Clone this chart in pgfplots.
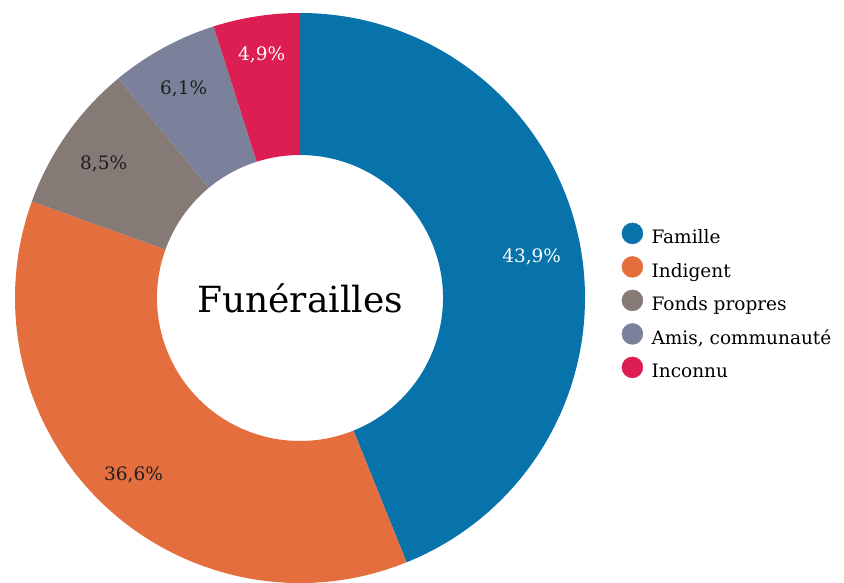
\documentclass[border=0pt]{standalone}
\usepackage{pgfplots}
\pgfplotsset{compat=1.18}
\usepackage{fontspec}
\setmainfont{DejaVu Serif}

\definecolor{famille}{RGB}{8,114,170}
\definecolor{indigent}{RGB}{228,110,62}
\definecolor{fonds}{RGB}{133,122,118}
\definecolor{amis}{RGB}{124,129,155}
\definecolor{inconnu}{RGB}{221,30,82}
\definecolor{labeldark}{RGB}{30,30,30}

% outer and inner radius of the ring (1 axis unit = 1pt)
\newcommand\Ro{285}
\newcommand\Ri{143}
% slice from cumulative percent #1 to #2, clockwise from the top
\newcommand{\slice}[3]{%
  \fill[#3] (axis cs:{\Ro*cos(90-3.6*#1)},{\Ro*sin(90-3.6*#1)})
    arc[start angle={90-3.6*#1}, end angle={90-3.6*#2}, radius=\Ro pt]
    -- (axis cs:{\Ri*cos(90-3.6*#2)},{\Ri*sin(90-3.6*#2)})
    arc[start angle={90-3.6*#2}, end angle={90-3.6*#1}, radius=\Ri pt] -- cycle;}
% label at the middle angle of the slice, at distance #5 from the centre
\newcommand{\slicelabel}[5]{%
  \node[text=#4, font=\fontsize{18.5}{20}\selectfont, yshift=-4pt]
    at (axis cs:{#5*cos(90-1.8*(#1+#2))},{#5*sin(90-1.8*(#1+#2))}) {#3};}

\begin{document}
\begin{tikzpicture}
\begin{axis}[
  hide axis,
  scale only axis,
  width=844pt, height=583pt,
  xmin=-300, xmax=544,
  ymin=-285, ymax=298,
  clip=false,
  legend image code/.code={\fill[#1] (10.5pt,6pt) circle (10.5pt);},
  legend style={
    at={(axis cs:321.5,75.5)}, anchor=north west,
    draw=none, fill=none, inner sep=0pt,
    font=\fontsize{18.5}{20}\selectfont,
    row sep=7.3pt,
    nodes={inner sep=0pt, text height=14pt, text depth=5pt},
    /tikz/every even column/.append style={column sep=0pt},
  },
  legend cell align=left,
]
  \coordinate (bl) at (axis cs:-300,-285);
  \coordinate (tr) at (axis cs:544,298);

  % cumulative shares: 43,9 / 36,6 / 8,5 / 6,1 / 4,9
  \slice{0}{43.9}{famille}
  \slice{43.9}{80.5}{indigent}
  \slice{80.5}{89.0}{fonds}
  \slice{89.0}{95.1}{amis}
  \slice{95.1}{100}{inconnu}

  \slicelabel{0}{43.9}{43,9\%}{white}{236}
  \slicelabel{43.9}{80.5}{36,6\%}{labeldark}{240}
  \slicelabel{80.5}{89.0}{8,5\%}{labeldark}{240}
  \slicelabel{89.0}{95.1}{6,1\%}{labeldark}{243}
  \slicelabel{95.1}{100}{4,9\%}{white}{250}

  \node[font=\fontsize{36}{40}\selectfont, text=black] at (axis cs:0,0) {Funérailles};

  \addlegendimage{famille}\addlegendentry{\hspace{8.5pt}Famille}
  \addlegendimage{indigent}\addlegendentry{\hspace{8.5pt}Indigent}
  \addlegendimage{fonds}\addlegendentry{\hspace{8.5pt}Fonds propres}
  \addlegendimage{amis}\addlegendentry{\hspace{8.5pt}Amis, communauté}
  \addlegendimage{inconnu}\addlegendentry{\hspace{8.5pt}Inconnu}
\end{axis}
\pgfresetboundingbox
\path (bl) rectangle (tr);
\end{tikzpicture}
\end{document}
